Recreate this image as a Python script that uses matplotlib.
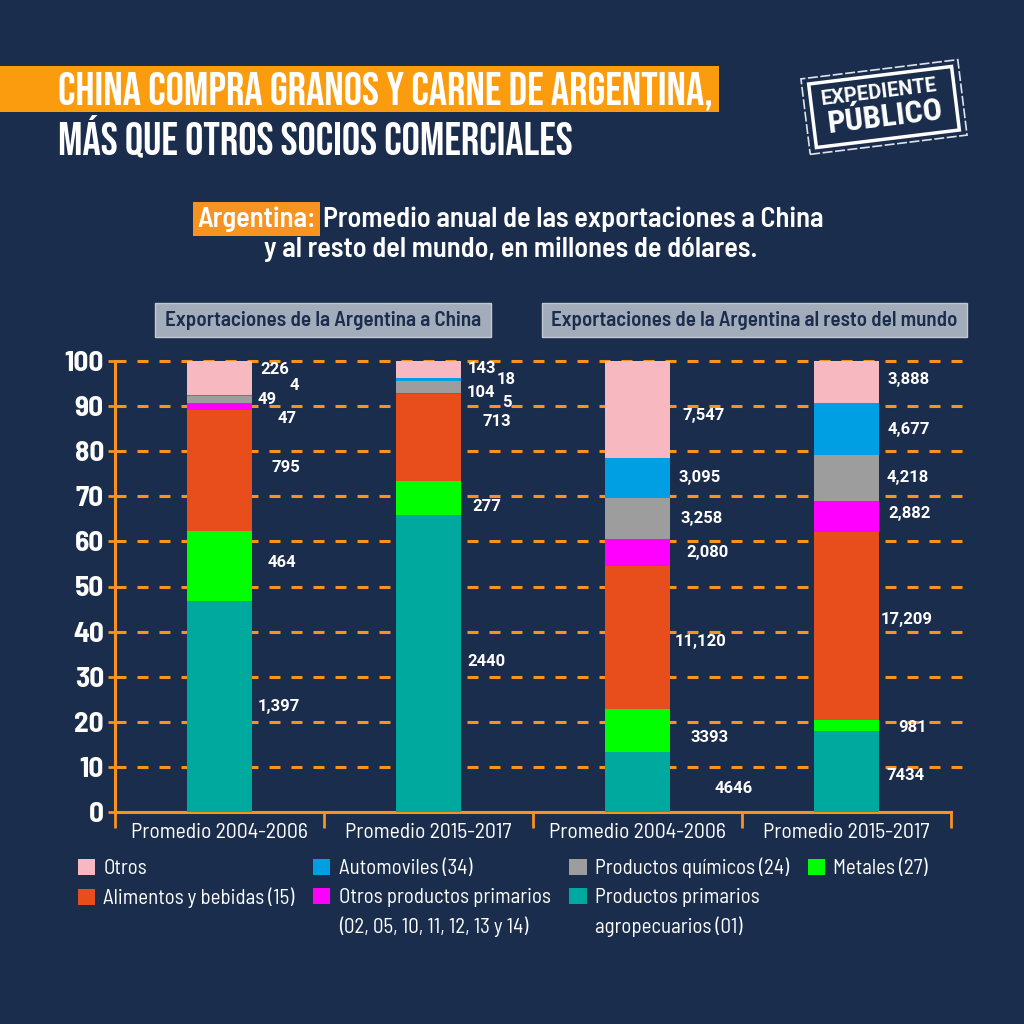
import matplotlib
matplotlib.use("Agg")
import matplotlib.pyplot as plt
import numpy as np
from matplotlib.patches import Rectangle, Patch
from matplotlib.transforms import Affine2D

# ---- data (millones de USD, promedio anual) ----
periods = ["Promedio 2004-2006", "Promedio 2015-2017", "Promedio 2004-2006", "Promedio 2015-2017"]
primarios = [1397, 2440, 4646, 7434]
metales = [464, 277, 3393, 981]
alimentos = [795, 713, 11120, 17209]
otros_prim = [47, 5, 2080, 2882]
quimicos = [49, 104, 3258, 4218]
autos = [4, 18, 3095, 4677]
otros = [226, 143, 7547, 3888]

lab_primarios = ["1,397", "2440", "4646", "7434"]
lab_metales = ["464", "277", "3393", "981"]
lab_alimentos = ["795", "713", "11,120", "17,209"]
lab_otros_prim = ["47", "5", "2,080", "2,882"]
lab_quimicos = ["49", "104", "3,258", "4,218"]
lab_autos = ["4", "18", "3,095", "4,677"]
lab_otros = ["226", "143", "7,547", "3,888"]

series_names = ["Productos primarios", "Metales (27)", "Alimentos y bebidas (15)",
                "Otros productos primarios", "Productos químicos (24)",
                "Automoviles (34)", "Otros"]
name_cont = {0: "agropecuarios (01)", 3: "(02, 05, 10, 11, 12, 13 y 14)"}

# ---- style ----
BG = "#1a2d4c"
ORANGE = "#f7931e"
BAND = "#fb9b0e"
colors = ["#00a99d", "#00ff00", "#e84e1b", "#ff00ff", "#9d9d9d", "#009fe3", "#f8b8c0"]

TITLE_FONT = ["Bebas Neue", "DejaVu Sans"]
SEMI = ["Barlow Semi Condensed", "Roboto Condensed", "DejaVu Sans"]
VAL = ["Roboto", "DejaVu Sans"]

# label nudges (dx in px from bar edge, dy in % points), bottom -> top per bar
nudges = [
    [(6, 0), (16, 0.8), (20, 0.6), (26, -2.5), (6, 0), (38, 2.3), (8, 1.8)],
    [(6, 0.3), (11, -1.9), (22, 3.6), (41, -1.9), (6, -1.3), (36, 0), (7, 0.3)],
    [(45, -1.5), (21, -1.6), (5, -1), (16, 0), (11, 0), (9, 0), (13, -1.3)],
    [(8, -1), (19, -0.4), (2, 1.4), (9, 0.6), (8, 0), (9, -0.2), (9, 0.5)],
]

W = 1024


def fx(x):
    return x / W


def fy(y):
    return 1 - y / W


fig = plt.figure(figsize=(10.24, 10.24), dpi=100, facecolor=BG)
renderer = fig.canvas.get_renderer()


def fit(t, width_px):
    w = t.get_window_extent(renderer).width
    t.set_fontsize(t.get_fontsize() * width_px / w)


# ---- title ----
fig.patches.append(Rectangle((0, fy(112)), fx(719), (112 - 66) / W, transform=fig.transFigure,
                             facecolor=BAND, edgecolor="none"))
t1 = fig.text(fx(58), fy(104), "CHINA COMPRA GRANOS Y CARNE DE ARGENTINA,", color="white",
              family=TITLE_FONT, fontsize=32, va="baseline", ha="left")
fit(t1, 658)
fig.text(fx(58), fy(154), "MÁS QUE OTROS SOCIOS COMERCIALES", color="white",
         family=TITLE_FONT, fontsize=t1.get_fontsize(), va="baseline", ha="left")

# ---- stamp logo ----
cx, cy = 884, W - 107
rot = Affine2D().rotate_deg_around(cx, cy, 7)
fig.patches.append(Rectangle((cx - 79, cy - 38), 158, 76, transform=rot, facecolor="none",
                             edgecolor="#dde3ea", lw=1.2, linestyle=(0, (6, 1.5))))
fig.patches.append(Rectangle((cx - 72, cy - 32), 144, 64, transform=rot, facecolor="none",
                             edgecolor="white", lw=2.5))
fig.text(fx(880), fy(98), "EXPEDIENTE", color="white", family=["Roboto", "DejaVu Sans"],
         weight="bold", fontsize=14.5, rotation=7, ha="center", va="baseline", rotation_mode="anchor")
fig.text(fx(886), fy(126), "PÚBLICO", color="white", family=["Roboto Condensed", "DejaVu Sans"],
         weight="bold", fontsize=23, rotation=7, ha="center", va="baseline", rotation_mode="anchor")

# ---- subtitle ----
s0 = fig.text(fx(316), fy(227), "Argentina:", color="white", family=SEMI, weight="semibold",
              fontsize=17, ha="right", va="baseline",
              bbox=dict(boxstyle="square,pad=0.15", facecolor=ORANGE, edgecolor="none"))
s1 = fig.text(fx(323), fy(227), "Promedio anual de las exportaciones a China", color="white",
              family=SEMI, weight="semibold", fontsize=17, ha="left", va="baseline")
fit(s1, 502)
s0.set_fontsize(s1.get_fontsize())
fig.text(fx(511), fy(257), "y al resto del mundo, en millones de dólares.", color="white",
         family=SEMI, weight="semibold", fontsize=s1.get_fontsize(), ha="center", va="baseline")

# ---- panel headers ----
for (x0, x1, txt) in [(155, 491, "Exportaciones de la Argentina a China"),
                      (542, 967, "Exportaciones de la Argentina al resto del mundo")]:
    fig.patches.append(Rectangle((fx(x0), fy(337)), fx(x1 - x0), 34 / W, transform=fig.transFigure,
                                 facecolor="#a3acba", edgecolor="#c3c9d2", lw=1))
    ht = fig.text(fx((x0 + x1) / 2), fy(320), txt, color=BG, family=SEMI, weight="semibold",
                  fontsize=14, ha="center", va="center")
    fit(ht, (x1 - x0) - 20)

# ---- chart ----
ax = fig.add_axes([fx(115), fy(812), fx(951 - 115), (812 - 361) / W])
ax.set_facecolor("none")

data = np.array([primarios, metales, alimentos, otros_prim, quimicos, autos, otros], dtype=float)
labels = [lab_primarios, lab_metales, lab_alimentos, lab_otros_prim, lab_quimicos, lab_autos, lab_otros]
pct = data / data.sum(axis=0) * 100
x = np.arange(len(periods))
width = 0.31

bottom = np.zeros(len(periods))
for i in range(len(data)):
    ax.bar(x, pct[i], width, bottom=bottom, color=colors[i], zorder=3, linewidth=0)
    for j in range(len(periods)):
        dx, dy = nudges[j][i]
        ax.annotate(labels[i][j], xy=(x[j] + width / 2, bottom[j] + pct[i][j] / 2 + dy),
                    xytext=(dx * 0.72, 0), textcoords="offset points", ha="left", va="center",
                    color="white", family=VAL, weight="bold", fontsize=12, zorder=4)
    bottom += pct[i]

ax.set_xlim(-0.5, len(periods) - 0.5)
ax.set_ylim(0, 100)

yt = np.arange(10, 101, 10)
ax.hlines(yt, 0, 1.014, transform=ax.get_yaxis_transform(), colors=ORANGE, lw=2.2,
          linestyles=(0, (3.6, 3.6)), zorder=1, clip_on=False)

for s in ["top", "right"]:
    ax.spines[s].set_visible(False)
for s in ["left", "bottom"]:
    ax.spines[s].set_color(ORANGE)
    ax.spines[s].set_linewidth(2.2)

ax.set_yticks(np.arange(0, 101, 10))
ax.tick_params(axis="y", colors=ORANGE, length=5, width=2, pad=3, labelcolor="white")
for lb in ax.get_yticklabels():
    lb.set_family(SEMI)
    lb.set_weight("bold")
    lb.set_fontsize(21)

ax.set_xticks(x)
ax.set_xticklabels(periods)
ax.set_xticks(np.arange(-0.5, len(periods), 1), minor=True)
ax.tick_params(axis="x", which="major", length=0, pad=8, labelcolor="white")
ax.tick_params(axis="x", which="minor", length=11.5, width=2, colors=ORANGE)
for lb in ax.get_xticklabels():
    lb.set_family(SEMI)
    lb.set_fontsize(15.6)

# ---- legend: 4 columns x 3 rows, column-major ----
blank = Patch(facecolor="none", edgecolor="none", label=" ")
cols = [[6, 2, None], [5, 3, "c3"], [4, 0, "c0"], [1, None, None]]
handles = []
for col in cols:
    for k in col:
        if k is None:
            handles.append(blank)
        elif isinstance(k, str):
            handles.append(Patch(facecolor="none", edgecolor="none", label=name_cont[int(k[1])]))
        else:
            handles.append(Patch(facecolor=colors[k], edgecolor="none", label=series_names[k]))
leg = fig.legend(handles=handles, loc="upper left", bbox_to_anchor=(fx(78), fy(858)), ncol=4,
                 frameon=False, prop={"family": SEMI, "size": 15}, labelcolor="white",
                 handlelength=0.82, handleheight=0.82, handletextpad=0.4, columnspacing=0.9,
                 labelspacing=0.45, borderpad=0, borderaxespad=0)

fig.savefig("out.png", dpi=100, facecolor=BG)
